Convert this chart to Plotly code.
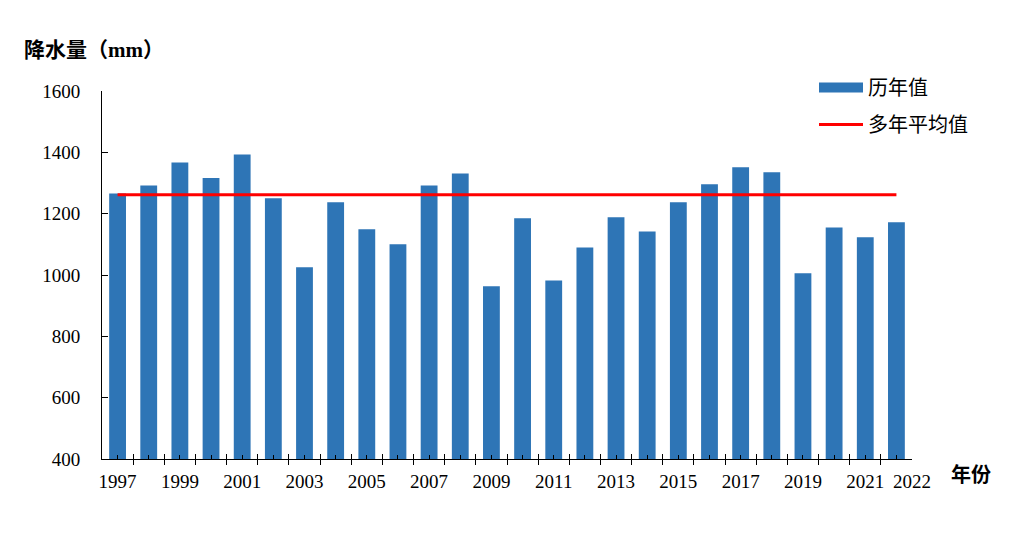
import plotly.graph_objects as go

# ---- data ----
years = list(range(1997, 2023))
precip = [1266, 1292, 1367, 1316, 1393, 1250, 1025, 1237, 1149, 1100,
          1292, 1331, 963, 1185, 982, 1090, 1188, 1142, 1237, 1296,
          1351, 1335, 1006, 1155, 1123, 1172]
avg_value = 1262
avg_line = [avg_value] * len(years)
y_ticks = [400, 600, 800, 1000, 1200, 1400, 1600]
x_label_years = list(range(1997, 2022, 2))
end_label = "2022"
series_names = ["历年值", "多年平均值"]
y_title = "降水量（mm）"
x_title = "年份"

BLUE = "#2E75B6"
RED = "#FF0000"
SERIF = "Liberation Serif, Times New Roman, Noto Sans CJK SC"
CJK = "Noto Sans CJK SC, Liberation Serif"

# page body has an 8px margin, so the figure is drawn at (8, 8)
OFF = 8
W, H = 1012 - OFF, 538 - OFF
L = 102 - OFF
T = 91 - OFF
R = W - (912 - OFF)
B = H - (459 - OFF)
PW, PH = W - L - R, H - T - B

def px_x(px):
    return (px - OFF - L) / PW

def px_y(py):
    return (H - B - (py - OFF)) / PH

fig = go.Figure()
fig.add_trace(go.Bar(x=years, y=precip, width=0.54,
                     marker=dict(color=BLUE, line_width=0),
                     name=series_names[0], showlegend=False))
fig.add_trace(go.Scatter(x=years, y=avg_line, mode="lines",
                         line=dict(color=RED, width=3),
                         name=series_names[1], showlegend=False, xaxis="x2"))
# legend entries
fig.add_trace(go.Scatter(x=[None], y=[None], mode="lines",
                         line=dict(color=BLUE, width=10),
                         name=series_names[0], legendgroup="a"))
fig.add_trace(go.Scatter(x=[None], y=[None], mode="lines",
                         line=dict(color=RED, width=3),
                         name=series_names[1], legendgroup="b"))

tickvals = years + [years[-1] + 0.5]
ticktext = [str(y) if y in x_label_years else "" for y in years] + [end_label]
boundaries = [y - 0.5 for y in years] + [years[-1] + 0.5]
xr = [years[0] - 0.5, years[-1] + 0.5]

fig.update_layout(
    width=W, height=H,
    margin=dict(l=L, r=R, t=T, b=B, autoexpand=False),
    plot_bgcolor="white", paper_bgcolor="white",
    xaxis=dict(range=xr, tickmode="array", tickvals=tickvals, ticktext=ticktext,
               ticks="inside", ticklen=4, tickwidth=1, tickcolor="black",
               showline=True, linecolor="black", linewidth=1,
               showgrid=False, zeroline=False, tickangle=0, ticklabelstandoff=5,
               tickfont=dict(family=SERIF, size=19, color="black"),
               minor=dict(tickmode="array", tickvals=boundaries, ticks="outside",
                          ticklen=5, tickwidth=1, tickcolor="black", showgrid=False)),
    xaxis2=dict(range=xr, overlaying="x", anchor="y", side="bottom",
                tickmode="array", tickvals=boundaries, ticks="inside", ticklen=5,
                tickwidth=1, tickcolor="black", showticklabels=False,
                showline=False, showgrid=False, zeroline=False),
    yaxis=dict(range=[y_ticks[0], y_ticks[-1]], tickmode="array", tickvals=y_ticks,
               ticks="inside", ticklen=6, tickwidth=1, tickcolor="black",
               showline=True, linecolor="black", linewidth=1,
               showgrid=False, zeroline=False, ticklabelstandoff=17,
               tickfont=dict(family=SERIF, size=19, color="black")),
    legend=dict(x=px_x(814), y=px_y(68), xanchor="left", yanchor="top",
                font=dict(family=CJK, size=20, color="black"),
                itemwidth=44, traceorder="grouped", tracegroupgap=8,
                bgcolor="rgba(0,0,0,0)"),
    showlegend=True,
    annotations=[
        dict(text=f"<b>{y_title}</b>", xref="paper", yref="paper",
             x=px_x(22), y=px_y(50), xanchor="left", yanchor="middle",
             showarrow=False, font=dict(family=SERIF, size=21, color="black")),
        dict(text=f"<b>{x_title}</b>", xref="paper", yref="paper",
             x=px_x(949), y=px_y(474), xanchor="left", yanchor="middle",
             showarrow=False, font=dict(family=CJK, size=20, color="black")),
    ],
)

fig.write_html("out.html")
